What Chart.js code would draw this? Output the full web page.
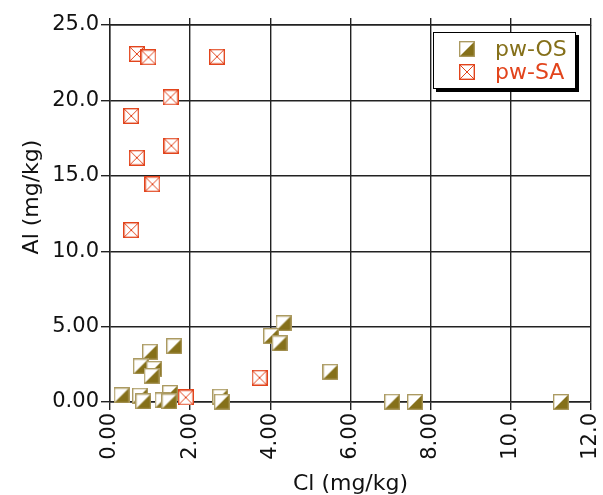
<!DOCTYPE html>
<html>
<head>
<meta charset="utf-8">
<script src="https://cdn.jsdelivr.net/npm/chart.js@4.4.1/dist/chart.umd.min.js"></script>
<style>
  body { margin: 0; background: #fff; }
  #wrap { position: relative; width: 603px; height: 495px; }
  #legendBox {
    position: absolute; left: 433px; top: 32px; width: 141px; height: 55px;
    border: 1.5px solid #000; background: #fff; box-shadow: 3px 3px 0 #000;
  }
  .leg-icon { position: absolute; }
  .leg-text {
    position: absolute; font-family: "DejaVu Sans", sans-serif; font-size: 22px;
    line-height: 22px; white-space: nowrap;
  }
  #yTitle {
    position: absolute; left: 31px; top: 197px; width: 200px; margin-left: -100px;
    height: 24px; margin-top: -12px; line-height: 24px; text-align: center;
    font-family: "DejaVu Sans", sans-serif; font-size: 22px; color: #111;
    transform: rotate(-90deg);
  }
</style>
</head>
<body>
<div id="wrap">
  <canvas id="chart" width="603" height="495"></canvas>
  <div id="yTitle">Al (mg/kg)</div>
  <div id="legendBox"></div>
  <canvas class="leg-icon" id="legOS" width="16" height="16" style="left:459px;top:41px"></canvas>
  <span class="leg-text" id="txtOS" style="left:495px;top:38px">pw-OS</span>
  <canvas class="leg-icon" id="legSA" width="16" height="16" style="left:459px;top:64px"></canvas>
  <span class="leg-text" id="txtSA" style="left:495px;top:61px">pw-SA</span>
</div>
<script>
// ---- Data ----
const xTickLabels = ['0.00', '2.00', '4.00', '6.00', '8.00', '10.0', '12.0'];
const yTickLabels = ['0.00', '5.00', '10.0', '15.0', '20.0', '25.0'];

// pw-OS : Cl / Al (mg/kg)
const osCl = [0.29, 0.75, 0.83, 1.00, 1.60, 0.77, 1.10, 1.04, 1.50, 1.31, 1.48, 2.75, 2.79, 4.33, 4.02, 4.23, 5.50, 7.04, 7.61, 11.25];
const osAl = [0.44, 0.42, 0.04, 3.33, 3.70, 2.36, 2.20, 1.72, 0.60, 0.10, 0.04, 0.35, 0.02, 5.22, 4.38, 3.89, 2.00, 0.02, 0.00, 0.00];

// pw-SA : Cl / Al (mg/kg)
const saCl = [0.67, 0.96, 2.67, 1.51, 0.53, 1.53, 0.67, 1.06, 0.53, 1.89, 3.73];
const saAl = [23.08, 22.86, 22.90, 20.20, 18.97, 17.00, 16.20, 14.44, 11.40, 0.30, 1.61];

// ---- Colours ----
const OLIVE      = '#85701a';
const OLIVE_EDGE = '#a8965a';
const RED        = '#e2441c';
const GRID       = '#222';
const FONT       = '"DejaVu Sans", sans-serif';

// ---- Marker images ----
function drawOS(g) {
  g.fillStyle = '#fff';
  g.fillRect(0, 0, 16, 16);
  g.fillStyle = OLIVE;
  g.beginPath();
  g.moveTo(15.5, 0.5);
  g.lineTo(15.5, 15.5);
  g.lineTo(0.5, 15.5);
  g.closePath();
  g.fill();
  g.strokeStyle = OLIVE_EDGE;
  g.lineWidth = 1.3;
  g.strokeRect(0.7, 0.7, 14.6, 14.6);
}

function drawSA(g) {
  g.fillStyle = '#fff';
  g.fillRect(0, 0, 16, 16);
  g.strokeStyle = RED;
  g.lineWidth = 1;
  g.beginPath();
  g.moveTo(1, 1); g.lineTo(15, 15);
  g.moveTo(15, 1); g.lineTo(1, 15);
  g.stroke();
  g.lineWidth = 1.4;
  g.strokeRect(0.7, 0.7, 14.6, 14.6);
}

function makeMarker(fn) {
  const c = document.createElement('canvas');
  c.width = 16; c.height = 16;
  fn(c.getContext('2d'));
  return c;
}

const osImg = makeMarker(drawOS);
const saImg = makeMarker(drawSA);
drawOS(document.getElementById('legOS').getContext('2d'));
drawSA(document.getElementById('legSA').getContext('2d'));
document.getElementById('txtOS').style.color = OLIVE;
document.getElementById('txtSA').style.color = RED;

function toPoints(xs, ys) {
  return xs.map(function (x, i) { return { x: x, y: ys[i] }; });
}

// ---- Chart ----
const ctx = document.getElementById('chart').getContext('2d');
new Chart(ctx, {
  type: 'scatter',
  data: {
    datasets: [
      { label: 'pw-OS', data: toPoints(osCl, osAl), pointStyle: osImg, order: 1, clip: false },
      { label: 'pw-SA', data: toPoints(saCl, saAl), pointStyle: saImg, order: 0, clip: false }
    ]
  },
  options: {
    responsive: false,
    animation: false,
    events: [],
    layout: { padding: { left: 0, right: 12, top: 0, bottom: 0 } },
    plugins: { legend: { display: false }, tooltip: { enabled: false } },
    scales: {
      x: {
        type: 'linear', position: 'bottom', min: 0, max: 12,
        afterFit: function (s) { s.height = 93; s.paddingLeft = 0; s.paddingRight = 0; },
        ticks: {
          stepSize: 2, minRotation: 90, maxRotation: 90, padding: 3,
          color: '#111', font: { family: FONT, size: 21 },
          callback: function (v, i) { return xTickLabels[i]; }
        },
        grid: { color: GRID, lineWidth: 1.4, tickLength: 8 },
        border: { color: GRID, width: 1.4 },
        title: {
          display: true, text: 'Cl (mg/kg)', color: '#111',
          font: { family: FONT, size: 22, lineHeight: 1 }, padding: 0
        }
      },
      xTop: {
        type: 'linear', position: 'top', min: 0, max: 12,
        afterFit: function (s) { s.height = 25; s.paddingLeft = 0; s.paddingRight = 0; },
        ticks: { stepSize: 2, display: false },
        grid: { color: GRID, lineWidth: 1.4, tickLength: 7, drawOnChartArea: false },
        border: { color: GRID, width: 1.4 }
      },
      y: {
        type: 'linear', min: 0, max: 25,
        afterFit: function (s) { s.width = 110; s.paddingTop = 0; s.paddingBottom = 0; },
        ticks: {
          stepSize: 5, padding: 2, color: '#111',
          font: { family: FONT, size: 21 },
          callback: function (v, i) { return yTickLabels[i]; }
        },
        grid: { color: GRID, lineWidth: 1.4, tickLength: 9 },
        border: { color: GRID, width: 1.4 },
        title: { display: false }
      }
    }
  }
});
</script>
</body>
</html>
